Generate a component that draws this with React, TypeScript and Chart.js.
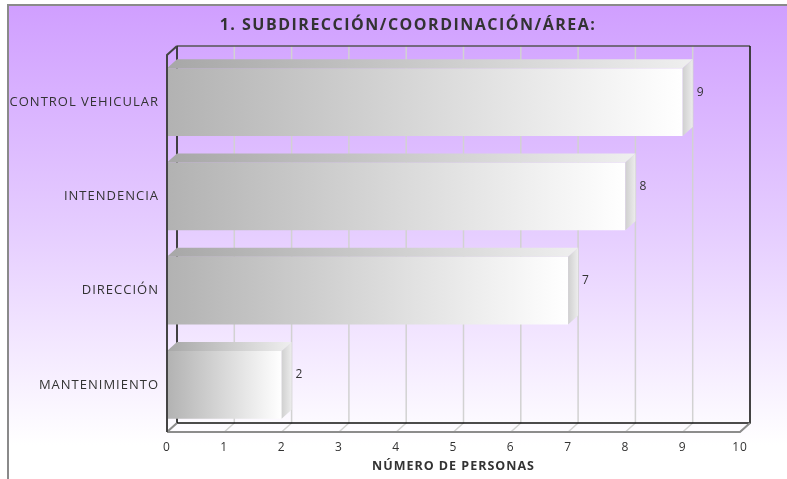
import React, { useEffect, useRef } from "react";
import { Chart, registerables } from "chart.js";

Chart.register(...registerables);

const categories = ["CONTROL VEHICULAR", "INTENDENCIA", "DIRECCIÓN", "MANTENIMIENTO"];
const values = [9, 8, 7, 2];
const xMin = 0;
const xMax = 10;
const xStep = 1;
const chartTitle = "1. SUBDIRECCIÓN/COORDINACIÓN/ÁREA:";
const xAxisTitle = "NÚMERO DE PERSONAS";

const FONT = '"Open Sans", sans-serif';
const DX = 10;
const DY = 9;

export default function App() {
  const ref = useRef<HTMLCanvasElement>(null);

  useEffect(() => {
    const canvas = ref.current;
    if (!canvas) return;

    const depthPlugin = {
      id: "depth3d",
      beforeDraw(chart: any) {
        const { ctx } = chart;
        const W = chart.width;
        const H = chart.height;
        ctx.save();
        ctx.fillStyle = "#ffffff";
        ctx.fillRect(0, 0, W, H);
        const bg = ctx.createLinearGradient(0, 6, 0, 445);
        bg.addColorStop(0, "rgb(208,159,255)");
        bg.addColorStop(0.5, "rgb(229,204,255)");
        bg.addColorStop(1, "#ffffff");
        ctx.fillStyle = bg;
        ctx.fillRect(9, 6, W - 9, H - 6);
        ctx.strokeStyle = "#8a8a8a";
        ctx.lineWidth = 2;
        ctx.beginPath();
        ctx.moveTo(8, H);
        ctx.lineTo(8, 5);
        ctx.lineTo(W, 5);
        ctx.stroke();
        ctx.restore();
        // the reference text is set a little wider than Open Sans
        (ctx as any).letterSpacing = "1px";
      },
      beforeDatasetsDraw(chart: any) {
        const { ctx, chartArea: a, scales } = chart;
        const xs = scales.x;
        ctx.save();
        ctx.strokeStyle = "#d2d2d2";
        ctx.lineWidth = 1.5;
        for (const t of xs.ticks) {
          const px = xs.getPixelForValue(t.value);
          ctx.beginPath();
          ctx.moveTo(px, a.bottom);
          ctx.lineTo(px + DX, a.bottom - DY);
          ctx.lineTo(px + DX, a.top - DY);
          ctx.stroke();
        }
        // back wall frame
        ctx.lineWidth = 1.5;
        ctx.strokeStyle = "#555555";
        ctx.beginPath();
        ctx.moveTo(a.left + DX, a.top - DY);
        ctx.lineTo(a.right + DX, a.top - DY);
        ctx.stroke();
        ctx.strokeStyle = "#111111";
        ctx.beginPath();
        ctx.moveTo(a.left + DX, a.bottom - DY);
        ctx.lineTo(a.left + DX, a.top - DY);
        ctx.moveTo(a.right + DX, a.top - DY);
        ctx.lineTo(a.right + DX, a.bottom - DY);
        ctx.lineTo(a.left + DX, a.bottom - DY);
        ctx.stroke();
        // floor front edges
        ctx.strokeStyle = "#8c8c8c";
        ctx.lineWidth = 2;
        ctx.beginPath();
        ctx.moveTo(a.left, a.bottom);
        ctx.lineTo(a.right, a.bottom);
        ctx.lineTo(a.right + DX, a.bottom - DY);
        ctx.moveTo(a.left, a.bottom);
        ctx.lineTo(a.left + DX, a.bottom - DY);
        ctx.stroke();
        ctx.restore();
      },
      afterDatasetsDraw(chart: any) {
        const { ctx, chartArea: a } = chart;
        const meta = chart.getDatasetMeta(0);
        ctx.save();
        meta.data.forEach((el: any, i: number) => {
          const x0 = el.base;
          const x1 = el.x;
          const top = el.y - el.height / 2;
          const bot = el.y + el.height / 2;
          // top face
          const tg = ctx.createLinearGradient(x0, 0, x1 + DX, 0);
          tg.addColorStop(0, "#a7a7a7");
          tg.addColorStop(1, "#efefef");
          ctx.fillStyle = tg;
          ctx.beginPath();
          ctx.moveTo(x0, top);
          ctx.lineTo(x1, top);
          ctx.lineTo(x1 + DX, top - DY);
          ctx.lineTo(x0 + DX, top - DY);
          ctx.closePath();
          ctx.fill();
          // side face
          const sg = ctx.createLinearGradient(x1, 0, x1 + DX, 0);
          sg.addColorStop(0, "#d0d0d0");
          sg.addColorStop(1, "#ececec");
          ctx.fillStyle = sg;
          ctx.beginPath();
          ctx.moveTo(x1, top);
          ctx.lineTo(x1 + DX, top - DY);
          ctx.lineTo(x1 + DX, bot - DY);
          ctx.lineTo(x1, bot);
          ctx.closePath();
          ctx.fill();
          // value label
          ctx.fillStyle = "#333333";
          ctx.font = `12px ${FONT}`;
          ctx.textAlign = "left";
          ctx.textBaseline = "middle";
          ctx.fillText(String(values[i]), x1 + DX + 4, el.y - 10);
        });
        // front-left axis edge
        ctx.strokeStyle = "#444444";
        ctx.lineWidth = 2;
        ctx.beginPath();
        ctx.moveTo(a.left + DX, a.top - DY);
        ctx.lineTo(a.left, a.top);
        ctx.lineTo(a.left, a.bottom);
        ctx.stroke();
        ctx.restore();
      },
      afterDraw(chart: any) {
        const { ctx } = chart;
        ctx.save();
        (ctx as any).letterSpacing = "1.5px";
        ctx.fillStyle = "#333333";
        ctx.font = `bold 16px ${FONT}`;
        ctx.textAlign = "center";
        ctx.textBaseline = "alphabetic";
        ctx.fillText(chartTitle, 408, 30);
        ctx.restore();
      },
    };

    const chart = new Chart(canvas, {
      type: "bar",
      data: {
        labels: categories,
        datasets: [
          {
            data: values,
            categoryPercentage: 1,
            barPercentage: 0.72,
            borderWidth: 0,
            backgroundColor: (c: any) => {
              const xs = c.chart.scales?.x;
              if (!xs || c.type !== "data") return "#cccccc";
              const p0 = xs.getPixelForValue(0);
              const p1 = xs.getPixelForValue(c.raw);
              if (!isFinite(p0) || !isFinite(p1) || p0 === p1) return "#cccccc";
              const g = c.chart.ctx.createLinearGradient(p0, 0, p1, 0);
              g.addColorStop(0, "#b2b2b2");
              g.addColorStop(1, "#ffffff");
              return g;
            },
          },
        ],
      },
      options: {
        indexAxis: "y",
        responsive: false,
        animation: false,
        events: [],
        layout: { padding: { left: 8, right: 47, top: 55, bottom: 0 } },
        plugins: {
          legend: { display: false },
          tooltip: { enabled: false },
          title: { display: false },
        },
        scales: {
          x: {
            type: "linear",
            min: xMin,
            max: xMax,
            ticks: {
              stepSize: xStep,
              color: "#333333",
              font: { family: FONT, size: 12 },
              padding: 8,
            },
            grid: { display: false, drawTicks: false },
            border: { display: false },
            title: {
              display: true,
              text: xAxisTitle,
              color: "#333333",
              font: { family: FONT, size: 12.5, weight: "bold" },
              padding: { top: 0, bottom: 5 },
            },
            afterFit: (s: any) => {
              s.height = 47;
            },
          },
          y: {
            type: "category",
            ticks: {
              color: "#333333",
              font: { family: FONT, size: 13 },
              padding: 8,
            },
            grid: { display: false, drawTicks: false },
            border: { display: false },
            afterFit: (s: any) => {
              s.width = 159;
            },
          },
        },
      } as any,
      plugins: [depthPlugin],
    });

    return () => chart.destroy();
  }, []);

  return (
    <div style={{ position: "fixed", left: 0, top: 0, width: 787, height: 479 }}>
      <canvas ref={ref} width={787} height={479} style={{ display: "block" }} />
    </div>
  );
}
